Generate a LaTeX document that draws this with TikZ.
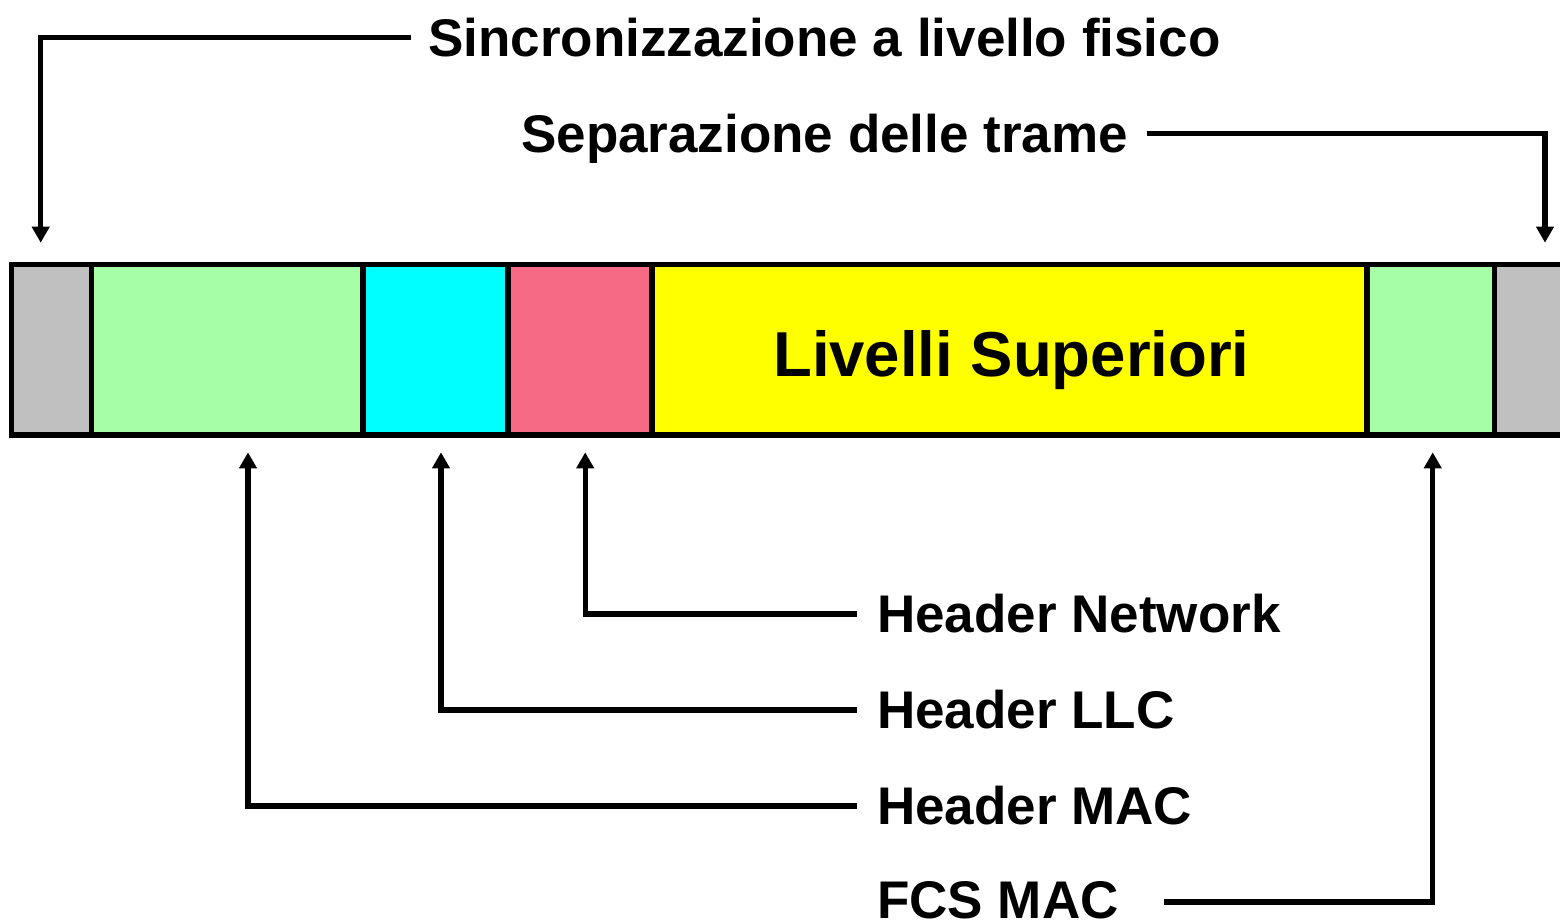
\documentclass[tikz,border=0pt]{standalone}
\usepackage{fontspec}
\setmainfont{Liberation Sans}
\usetikzlibrary{arrows.meta}
\definecolor{cgray}{HTML}{C0C0C0}
\definecolor{cgreen}{HTML}{A6FFA6}
\definecolor{ccyan}{HTML}{00FFFF}
\definecolor{cpink}{HTML}{F66A85}
\definecolor{cyellow}{HTML}{FFFF00}
\begin{document}
\begin{tikzpicture}[x=1pt,y=-1pt,
  cell/.style={draw=black,line width=5.8pt,inner sep=0pt,minimum height=170.5pt},
  lbl/.style={font=\fontsize{53}{60}\selectfont\bfseries,inner sep=0pt,text height=38pt,text depth=0pt,anchor=west},
  conn/.style={line width=5.2pt,-{Triangle[width=17pt,length=16pt]}}]
\useasboundingbox (0,0) rectangle (1560,922);
% frame cells
\node[cell,fill=cgray,minimum width=80pt] (g1) at (51.5,349.75) {};
\node[cell,fill=cgreen,minimum width=271.5pt] (gr1) at (227.25,349.75) {};
\node[cell,fill=ccyan,minimum width=144.6pt] (cy) at (435.3,349.75) {};
\node[cell,fill=cpink,minimum width=144.4pt] (pk) at (579.8,349.75) {};
\node[cell,fill=cyellow,minimum width=714.7pt] (ye) at (1009.35,349.75) {};
\node[cell,fill=cgreen,minimum width=127.8pt] (gr2) at (1430.6,349.75) {};
\node[cell,fill=cgray,minimum width=85.5pt] (g2) at (1537.25,349.75) {};
\node[font=\fontsize{63.5}{70}\selectfont\bfseries,inner sep=0pt,anchor=base west] (lv) at (773,376) {Livelli Superiori};
% labels
\node[lbl] (s1) at (428,37.5) {Sincronizzazione a livello fisico};
\node[lbl] (s2) at (521,133.3) {Separazione delle trame};
\node[lbl] (hn) at (877,613) {Header Network};
\node[lbl] (hl) at (877,709) {Header LLC};
\node[lbl] (hm) at (877,805) {Header MAC};
\node[lbl] (hf) at (877,899) {FCS MAC};
% arrow tips
\coordinate (tA) at (40.7,242.7);
\coordinate (tB) at (1545,242.7);
\coordinate (tN) at (585.2,452.3);
\coordinate (tL) at (441,452.3);
\coordinate (tM) at (248,452.3);
\coordinate (tF) at (1432.7,452.3);
% connectors
\draw[conn] ([xshift=-17pt]s1.west) -| (tA);
\draw[conn] ([xshift=19pt]s2.east) -| (tB);
\draw[conn] ([xshift=-20pt,yshift=-1pt]hn.west) -| (tN);
\draw[conn] ([xshift=-20pt,yshift=-1pt]hl.west) -| (tL);
\draw[conn] ([xshift=-20pt,yshift=-1pt]hm.west) -| (tM);
\draw[conn] ([xshift=45pt,yshift=-3pt]hf.east) -| (tF);
\end{tikzpicture}
\end{document}
